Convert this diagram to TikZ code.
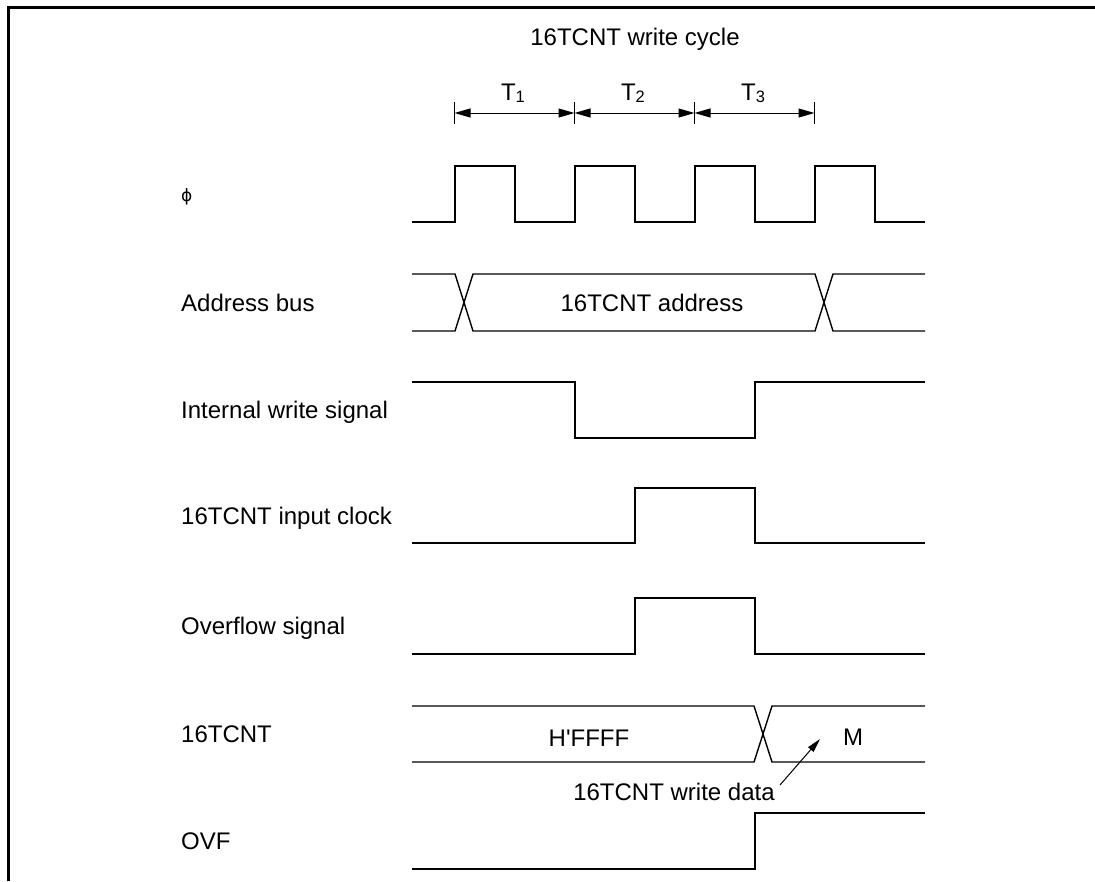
\documentclass[tikz,border=0pt]{standalone}
\usepackage{fontspec}
\setmainfont{Liberation Sans}
\newfontfamily\dvsans{DejaVu Sans}
\newfontfamily\rawsans{Liberation Sans}
\usetikzlibrary{arrows.meta}
\tikzset{
  lbl/.style={anchor=base west,inner sep=0pt,font=\fontsize{24}{28}\selectfont},
  txt/.style={anchor=base,inner sep=0pt,font=\fontsize{24}{28}\selectfont},
  sig/.style={line width=1.4pt,line join=miter},
  tarrow/.style={line width=1pt,{Triangle[length=16pt,width=9pt]}-{Triangle[length=16pt,width=9pt]}},
  ptr/.style={line width=1pt,-{Triangle[length=14pt,width=7pt]}},
  frame/.style={line width=2.7pt}
}
\newcommand{\Tsub}[1]{T\raisebox{-2pt}{\fontsize{16.5}{17}\selectfont #1}}
\begin{document}
\begin{tikzpicture}[x=1pt,y=-1pt]
\useasboundingbox (0,0) rectangle (1095,881);
% frame
\draw[frame] (8.7,881) -- (8.7,7.4) -- (1095,7.4);
% title
\node[txt] (title) at (635,45) {16TCNT write cycle};
% T intervals
\coordinate (k0) at (454.5,113);
\coordinate (k1) at (574.5,113);
\coordinate (k2) at (694.5,113);
\coordinate (k3) at (814.5,113);
\foreach \k in {k0,k1,k2,k3}{\draw[line width=1.2pt] ([yshift=-11pt]\k) -- ([yshift=11pt]\k);}
\draw[tarrow] (k0) -- (k1);
\draw[tarrow] (k1) -- (k2);
\draw[tarrow] (k2) -- (k3);
\node[txt] (t1) at (513,100) {\Tsub{1}};
\node[txt] (t2) at (633,100) {\Tsub{2}};
\node[txt] (t3) at (753,100) {\Tsub{3}};
% labels
\node[anchor=base west,inner sep=0pt,font=\dvsans\fontsize{17}{20}\selectfont] (lphi) at (181,201) {ϕ};
\node[lbl] (laddr) at (181,311) {Address bus};
\node[lbl] (lwrite) at (181,418.5) {Internal write signal};
\node[lbl] (lclk) at (181,524) {16TCNT input clock};
\node[lbl] (lovs) at (181,634.5) {Overflow signal};
\node[lbl] (lcnt) at (181,742.5) {16TCNT};
\node[lbl] (lovf) at (181,849.5) {OVF};
% phi clock
\draw[sig] (412,222) -- (455,222) -- (455,166) -- (515,166) -- (515,222) -- (575,222) -- (575,166) -- (635,166) -- (635,222) -- (695,222) -- (695,166) -- (755,166) -- (755,222) -- (815,222) -- (815,166) -- (875,166) -- (875,222) -- (925,222);
% address bus
\draw[sig] (412,274) -- (455,274) -- (473,331) -- (815,331) -- (833,274) -- (925,274);
\draw[sig] (412,331) -- (455,331) -- (473,274) -- (815,274) -- (833,331) -- (925,331);
\node[txt] (addrtxt) at (652,311) {16TCNT address};
% internal write
\draw[sig] (412,382) -- (575,382) -- (575,438) -- (755,438) -- (755,382) -- (925,382);
% input clock
\draw[sig] (412,543) -- (635,543) -- (635,488) -- (755,488) -- (755,543) -- (925,543);
% overflow signal
\draw[sig] (412,654) -- (635,654) -- (635,598) -- (755,598) -- (755,654) -- (925,654);
% 16TCNT
\draw[sig] (412,706) -- (754,706) -- (772,762) -- (925,762);
\draw[sig] (412,762) -- (754,762) -- (772,706) -- (925,706);
\node[txt,font=\rawsans\fontsize{24}{28}\selectfont] (ffff) at (589,746.5) {H'FFFF};
\node[txt] (mtxt) at (853,745) {M};
\node[txt] (wdata) at (674,800) {16TCNT write data};
\coordinate (wdtail) at (780,785);
\coordinate (wdtip) at (820,739);
\draw[ptr] (wdtail) -- (wdtip);
% OVF
\draw[sig] (412,869) -- (755,869) -- (755,813) -- (925,813);
\end{tikzpicture}
\end{document}
